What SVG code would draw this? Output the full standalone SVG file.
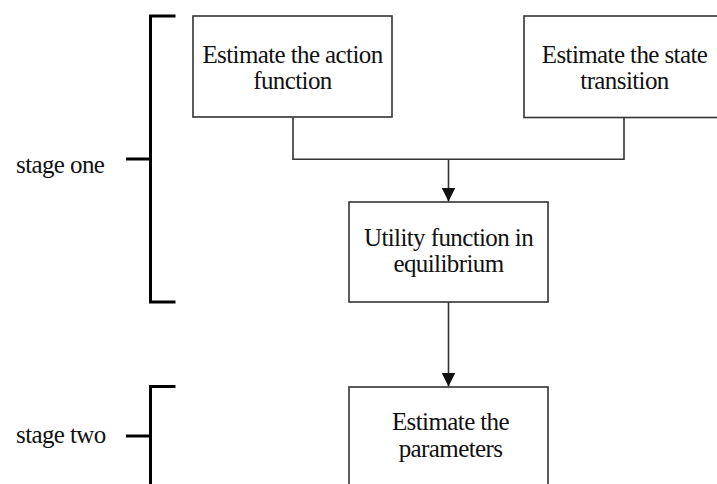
<svg xmlns="http://www.w3.org/2000/svg" width="717" height="484" viewBox="0 0 717 484">
<style>
.box{fill:#fff;stroke:#333;stroke-width:1.6}
.t{font-family:"Liberation Serif","Times New Roman",serif;font-size:25px;letter-spacing:-0.6px;fill:#111}
.c{text-anchor:middle}
.con{fill:none;stroke:#333;stroke-width:1.6}
.br{fill:none;stroke:#000;stroke-width:3}
</style>
<defs>
<marker id="ah" viewBox="0 0 14 16" refX="14" refY="8" markerWidth="14" markerHeight="16" markerUnits="userSpaceOnUse" orient="auto">
<path d="M0,1 L14,8 L0,15 Z" fill="#111"/>
</marker>
</defs>
<rect width="717" height="484" fill="#fff"/>
<g id="bracket-one">
<path class="br" d="M175.5,16 H150.5 V302 H175.5"/>
<path class="br" d="M126,159 H150.5"/>
<text class="t" x="16" y="173">stage one</text>
</g>
<g id="bracket-two">
<path class="br" d="M175.5,386.5 H150.5 V490"/>
<path class="br" d="M126,436 H150.5"/>
<text class="t" x="16" y="443">stage two</text>
</g>
<g id="connectors">
<path class="con" d="M293,117 V159.3 H624 V117"/>
<path class="con" d="M448.5,159.3 V201.5" marker-end="url(#ah)"/>
<path class="con" d="M448.5,302 V386.5" marker-end="url(#ah)"/>
</g>
<g id="node-action">
<rect class="box" x="193" y="16" width="199" height="101"/>
<text class="t c" x="292.5" y="63">Estimate the action</text>
<text class="t c" x="292.5" y="89">function</text>
</g>
<g id="node-state">
<rect class="box" x="524" y="16" width="210" height="101.5"/>
<text class="t c" x="624.5" y="63">Estimate the state</text>
<text class="t c" x="624.5" y="89">transition</text>
</g>
<g id="node-utility">
<rect class="box" x="349" y="202" width="199" height="100"/>
<text class="t c" x="448.5" y="246">Utility function in</text>
<text class="t c" x="448.5" y="272">equilibrium</text>
</g>
<g id="node-parameters">
<rect class="box" x="349" y="387" width="199" height="110"/>
<text class="t c" x="450.5" y="430">Estimate the</text>
<text class="t c" x="450.5" y="457">parameters</text>
</g>
</svg>
